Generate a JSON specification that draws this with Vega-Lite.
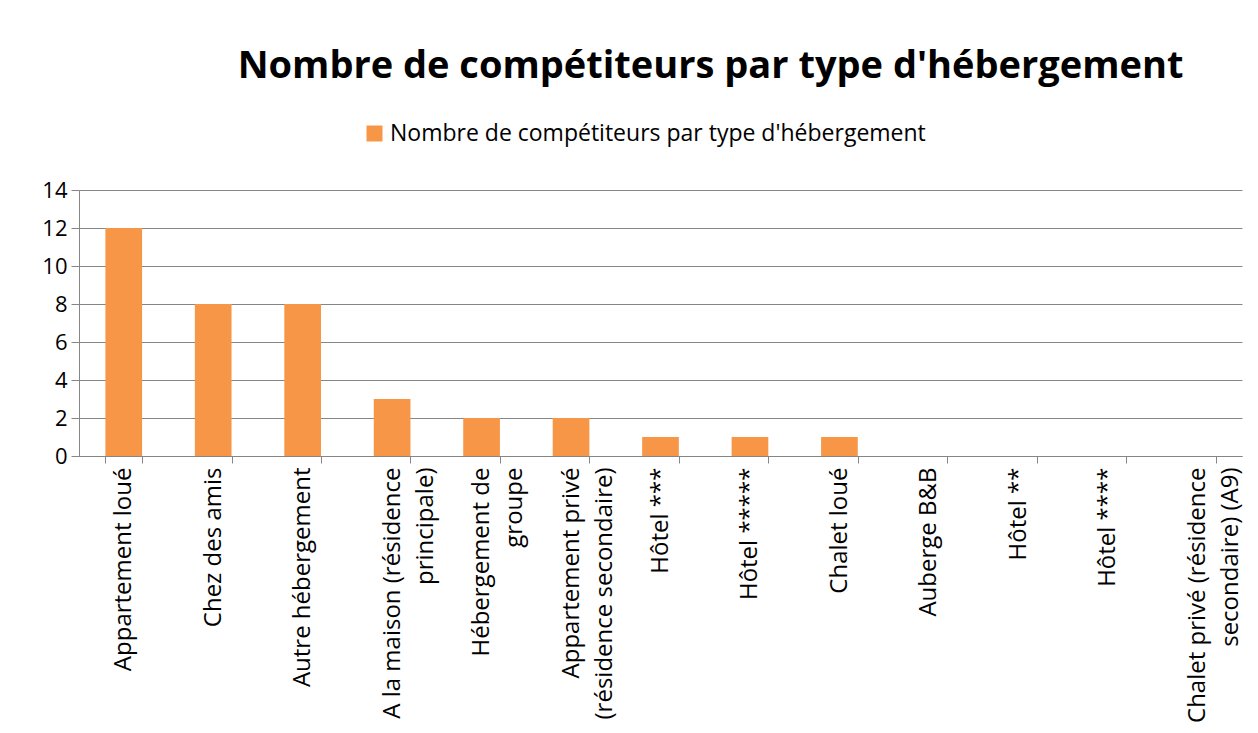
{
  "$schema": "https://vega.github.io/schema/vega-lite/v6.json",
  "width": 1163,
  "height": 266,
  "autosize": "none",
  "padding": {"left": 79, "top": 190, "right": 16, "bottom": 277},
  "background": "white",
  "title": {
    "text": "Nombre de compétiteurs par type d'hébergement",
    "font": "Open Sans",
    "fontSize": 38,
    "fontWeight": "bold",
    "color": "#000000",
    "anchor": "middle",
    "dx": 50,
    "offset": 36
  },
  "data": {
    "values": [
      {"type": "Appartement loué", "n": 12},
      {"type": "Chez des amis", "n": 8},
      {"type": "Autre hébergement", "n": 8},
      {"type": "A la maison (résidence|principale)", "n": 3},
      {"type": "Hébergement de|groupe", "n": 2},
      {"type": "Appartement privé|(résidence secondaire)", "n": 2},
      {"type": "Hôtel ***", "n": 1},
      {"type": "Hôtel *****", "n": 1},
      {"type": "Chalet loué", "n": 1},
      {"type": "Auberge B&B", "n": 0},
      {"type": "Hôtel **", "n": 0},
      {"type": "Hôtel ****", "n": 0},
      {"type": "Chalet privé (résidence|secondaire) (A9)", "n": 0}
    ]
  },
  "mark": {"type": "bar"},
  "encoding": {
    "x": {
      "field": "type",
      "type": "nominal",
      "sort": null,
      "scale": {"paddingInner": 0.59, "paddingOuter": 0.295},
      "axis": {
        "title": null,
        "labelExpr": "split(datum.label, '|')",
        "labelAngle": -90,
        "labelAlign": "right",
        "labelBaseline": "middle",
        "labelFont": "Open Sans",
        "labelFontSize": 24,
        "labelColor": "#000000",
        "labelPadding": 4,
        "labelLimit": 400,
        "labelLineHeight": 33,
        "tickBand": "extent",
        "tickSize": 7,
        "tickColor": "#868686",
        "domainColor": "#868686",
        "grid": false
      }
    },
    "y": {
      "field": "n",
      "type": "quantitative",
      "scale": {"domain": [0, 14]},
      "axis": {
        "title": null,
        "values": [0, 2, 4, 6, 8, 10, 12, 14],
        "labelFont": "Open Sans",
        "labelFontSize": 22,
        "labelColor": "#000000",
        "labelPadding": 4,
        "tickSize": 8,
        "tickColor": "#868686",
        "domainColor": "#868686",
        "gridColor": "#868686",
        "grid": true
      }
    },
    "color": {
      "datum": "Nombre de compétiteurs par type d'hébergement",
      "scale": {"range": ["#F79646"]},
      "legend": {
        "title": null,
        "orient": "none",
        "legendX": 284,
        "legendY": -68,
        "symbolType": "square",
        "symbolSize": 256,
        "symbolStrokeWidth": 0,
        "labelFont": "Open Sans",
        "labelFontSize": 23,
        "labelColor": "#000000",
        "labelLimit": 700,
        "labelOffset": 4
      }
    }
  },
  "config": {"view": {"stroke": null}}
}
